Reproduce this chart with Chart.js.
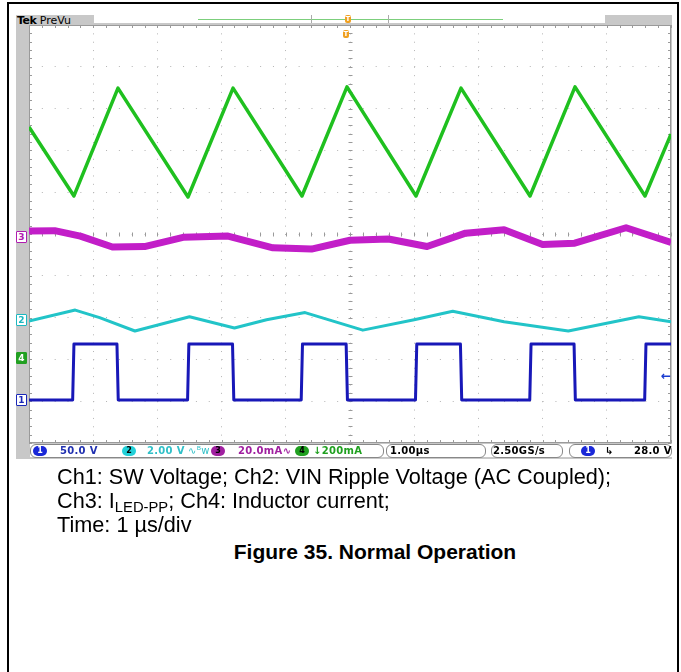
<!DOCTYPE html>
<html>
<head>
<meta charset="utf-8">
<script src="https://cdn.jsdelivr.net/npm/chart.js@4.4.0/dist/chart.umd.min.js"></script>
<style>
  body { margin: 0; width: 681px; height: 672px; position: relative; overflow: hidden; background: #fff;
         font-family: "Liberation Sans", Arial, sans-serif; }
  #page { position: absolute; left: 7px; top: 2px; width: 668px; height: 690px; border: 2px solid #000; }
  #scope { position: absolute; left: 16px; top: 15px; width: 656px; height: 444px; background: #c8c8c8; }
  #wrap { position: absolute; left: 16px; top: 15px; width: 656px; height: 444px; }
  .abs { position: absolute; white-space: nowrap; }
  #tek { left: 17px; top: 14px; font: 11px "DejaVu Sans", sans-serif; color: #000; }
  #tek b { font-weight: bold; letter-spacing: -0.5px; }
  #topbar { left: 94px; top: 15px; width: 511px; height: 8px; background: #fff; }
  #recline { left: 198px; top: 19px; width: 305px; height: 1px; background: #7ccf7c; }
  .tk { top: 15px; width: 1px; height: 8px; background: #aaa; }
  .trig { width: 6px; height: 8px; background: #f0a020; border-radius: 2px; color: #fff;
          font: bold 7px "DejaVu Sans", sans-serif; text-align: center; line-height: 8px; }
  .chm { width: 9px; height: 10px; font: bold 9px "DejaVu Sans", sans-serif; text-align: center; line-height: 10px;
         border: 1px solid; border-radius: 1px; background: #fff; }
  #status { left: 30px; top: 444px; width: 642px; height: 13px; background: #fff; }
  .box { position: absolute; top: 0; height: 12px; border: 1px solid #888; border-radius: 6px; }
  .st { position: absolute; top: 444px; font: bold 10px "DejaVu Sans", sans-serif; line-height: 13px; letter-spacing: 0.3px; }
  .oval { position: absolute; top: 446px; height: 10px; width: 14px; border-radius: 5px; color: #000;
          font: bold 8px "DejaVu Sans", sans-serif; text-align: center; line-height: 10px; }
  .cap { position: absolute; left: 57px; font-size: 22px; line-height: 24px; color: #000;
         transform: scaleX(0.985); transform-origin: left top; }
  .cap span { font-size: 15px; position: relative; top: 4px; }
  #fig { position: absolute; left: 0; width: 750px; text-align: center; top: 540px; font-weight: bold; font-size: 21px; }
</style>
</head>
<body>
<div id="page"></div>
<div id="scope"></div>
<div class="abs" id="topbar"></div>
<div class="abs" id="recline"></div>
<div class="abs tk" style="left:311px"></div>
<div class="abs tk" style="left:388px"></div>
<div class="abs" id="tek"><b>Tek</b> PreVu</div>
<div id="wrap"><canvas id="scopeChart"></canvas></div>
<div class="abs trig" style="left:345px;top:15px">T</div>
<div class="abs trig" style="left:343px;top:30px">T</div>

<div class="abs chm" style="left:16px;top:231px;color:#b01cb0;border-color:#b01cb0">3</div>
<div class="abs chm" style="left:16px;top:314px;color:#1cb8c0;border-color:#1cb8c0">2</div>
<div class="abs chm" style="left:16px;top:352px;color:#fff;background:#22a022;border-color:#22a022">4</div>
<div class="abs chm" style="left:16px;top:394px;color:#1a28b8;border-color:#1a28b8">1</div>
<div class="abs" style="left:661px;top:369px;color:#1a3cd0;font:bold 12px 'DejaVu Sans'">&#8592;</div>

<div class="abs" id="status">
  <div class="box" style="left:0;width:352px"></div>
  <div class="box" style="left:356px;width:98px"></div>
  <div class="box" style="left:461px;width:70px"></div>
  <div class="box" style="left:539px;width:101px"></div>
</div>
<div class="oval" style="left:33px;background:#1a28d8;color:#fff">1</div>
<div class="st" style="left:60px;color:#2030b0">50.0 V</div>
<div class="oval" style="left:122px;background:#22d0d8">2</div>
<div class="st" style="left:147px;color:#30c0c8">2.00 V</div>
<div class="st" style="left:188px;color:#30c0c8;font-weight:normal">&#8767;&#7470;w</div>
<div class="oval" style="left:211px;background:#a020a0">3</div>
<div class="st" style="left:238px;color:#a020a0">20.0mA&#8767;</div>
<div class="oval" style="left:295px;background:#20a020">4</div>
<div class="st" style="left:313px;color:#20a020">&#8595;200mA</div>
<div class="st" style="left:390px;color:#000">1.00&#181;s</div>
<div class="st" style="left:493px;color:#000">2.50GS/s</div>
<div class="oval" style="left:581px;background:#1a28d8;color:#fff">1</div>
<div class="st" style="left:605px;color:#000">&#8627;</div>
<div class="st" style="left:634px;color:#000">28.0 V</div>

<div class="cap" style="top:465px">Ch1: SW Voltage; Ch2: VIN Ripple Voltage (AC Coupled);</div>
<div class="cap" style="top:489px">Ch3: I<span>LED-PP</span>; Ch4: Inductor current;</div>
<div class="cap" style="top:513px">Time: 1 &#181;s/div</div>
<div id="fig">Figure 35. Normal Operation</div>

<script>
// time axis in us (1 us/div, 10 div), vertical axis in screen divisions (centre = 0)

// Ch1 SW voltage: square wave, edges and levels
const ch1Time  = [0, 0.68, 0.70, 1.37, 1.39, 2.47, 2.49, 3.17, 3.19, 4.24, 4.26, 4.94, 4.96,
                  6.02, 6.04, 6.72, 6.74, 7.80, 7.82, 8.49, 8.51, 9.59, 9.61, 10];
const ch1Level = [-3.97, -3.97, -2.63, -2.63, -3.97, -3.97, -2.63, -2.63, -3.97, -3.97, -2.63, -2.63, -3.97,
                  -3.97, -2.63, -2.63, -3.97, -3.97, -2.63, -2.63, -3.97, -3.97, -2.63, -2.63];

// Ch2 VIN ripple (AC coupled)
const ch2Time  = [0, 0.72, 1.1, 1.65, 2.5, 3.2, 3.7, 4.3, 5.2, 6.0, 6.6, 7.4, 8.4, 9.5, 10];
const ch2Level = [-2.08, -1.82, -2.0, -2.32, -1.98, -2.25, -2.05, -1.88, -2.30, -2.05, -1.85, -2.10, -2.32, -1.98, -2.1];

// Ch3 LED ripple current
const ch3Time  = [0, 0.4, 0.8, 1.3, 1.8, 2.4, 3.1, 3.8, 4.4, 5.0, 5.6, 6.2, 6.8, 7.4, 8.0, 8.5, 9.3, 10];
const ch3Level = [0.07, 0.08, -0.05, -0.31, -0.30, -0.08, -0.05, -0.33, -0.36, -0.15, -0.12, -0.30, 0.02, 0.10, -0.25, -0.22, 0.15, -0.20];

// Ch4 inductor current: triangle, vertices
const ch4Time  = [0, 0.70, 1.386, 2.477, 3.178, 4.252, 4.953, 6.028, 6.729, 7.804, 8.505, 9.595, 10];
const ch4Level = [2.56, 0.91, 3.49, 0.885, 3.49, 0.91, 3.52, 0.91, 3.49, 0.91, 3.52, 0.91, 2.39];

const xDivs = [0, 10];
const yDivs = [-5, 5];

function pts(t, v) {
  return t.map((x, i) => ({ x: x, y: v[i] }));
}

// light graticule: edge ticks, centre cross ticks, white screen
const graticule = {
  id: 'graticule',
  beforeDraw(chart) {
    const a = chart.chartArea, ctx = chart.ctx;
    ctx.save();
    ctx.fillStyle = '#fff';
    ctx.fillRect(a.left, a.top, a.right - a.left, a.bottom - a.top);
    ctx.restore();
  },
  beforeDatasetsDraw(chart) {
    const a = chart.chartArea, ctx = chart.ctx;
    const xs = chart.scales.x, ys = chart.scales.y;
    ctx.save();
    ctx.strokeStyle = '#9a9a9a';
    ctx.lineWidth = 1;
    ctx.strokeRect(a.left + 0.5, a.top + 0.5, a.right - a.left - 1, a.bottom - a.top - 1);
    ctx.beginPath();
    for (let t = xDivs[0]; t <= xDivs[1] + 1e-6; t += 0.2) {
      const px = Math.round(xs.getPixelForValue(t)) + 0.5;
      ctx.moveTo(px, a.top); ctx.lineTo(px, a.top + 3);
      ctx.moveTo(px, a.bottom); ctx.lineTo(px, a.bottom - 3);
      const cy = Math.round(ys.getPixelForValue(0)) + 0.5;
      ctx.moveTo(px, cy - 2); ctx.lineTo(px, cy + 2);
    }
    for (let v = yDivs[0]; v <= yDivs[1] + 1e-6; v += 0.2) {
      const py = Math.round(ys.getPixelForValue(v)) + 0.5;
      ctx.moveTo(a.left, py); ctx.lineTo(a.left + 3, py);
      ctx.moveTo(a.right, py); ctx.lineTo(a.right - 3, py);
      const cx = Math.round(xs.getPixelForValue(5)) + 0.5;
      ctx.moveTo(cx - 2, py); ctx.lineTo(cx + 2, py);
    }
    ctx.stroke();
    ctx.restore();
  }
};

const trace = (label, t, v, color, w) => ({
  label: label,
  data: pts(t, v),
  borderColor: color,
  borderWidth: w,
  pointRadius: 0,
  tension: 0,
  borderJoinStyle: 'round',
  fill: false
});

new Chart(document.getElementById('scopeChart'), {
  type: 'line',
  data: {
    datasets: [
      trace('Ch3', ch3Time, ch3Level, '#c21ec8', 7),
      trace('Ch2', ch2Time, ch2Level, '#22c4c8', 3),
      trace('Ch1', ch1Time, ch1Level, '#1818b8', 3),
      trace('Ch4', ch4Time, ch4Level, '#1fc01f', 3.5)
    ]
  },
  options: {
    responsive: true,
    maintainAspectRatio: false,
    animation: false,
    layout: { padding: { left: 13, top: 10, right: 1, bottom: 16 } },
    plugins: { legend: { display: false }, tooltip: { enabled: false } },
    scales: {
      x: {
        type: 'linear', min: xDivs[0], max: xDivs[1],
        ticks: { display: false, stepSize: 1 },
        grid: { drawTicks: false, color: c => (c.tick.value === 0 || c.tick.value === 10) ? 'rgba(0,0,0,0)' : '#b4b4b4' },
        border: { display: false, dash: [1, 7.36] }
      },
      y: {
        type: 'linear', min: yDivs[0], max: yDivs[1],
        ticks: { display: false, stepSize: 1 },
        grid: { drawTicks: false, color: c => (c.tick.value === -5 || c.tick.value === 5) ? 'rgba(0,0,0,0)' : '#b4b4b4' },
        border: { display: false, dash: [1, 11.84] }
      }
    }
  },
  plugins: [graticule]
});
</script>
</body>
</html>
